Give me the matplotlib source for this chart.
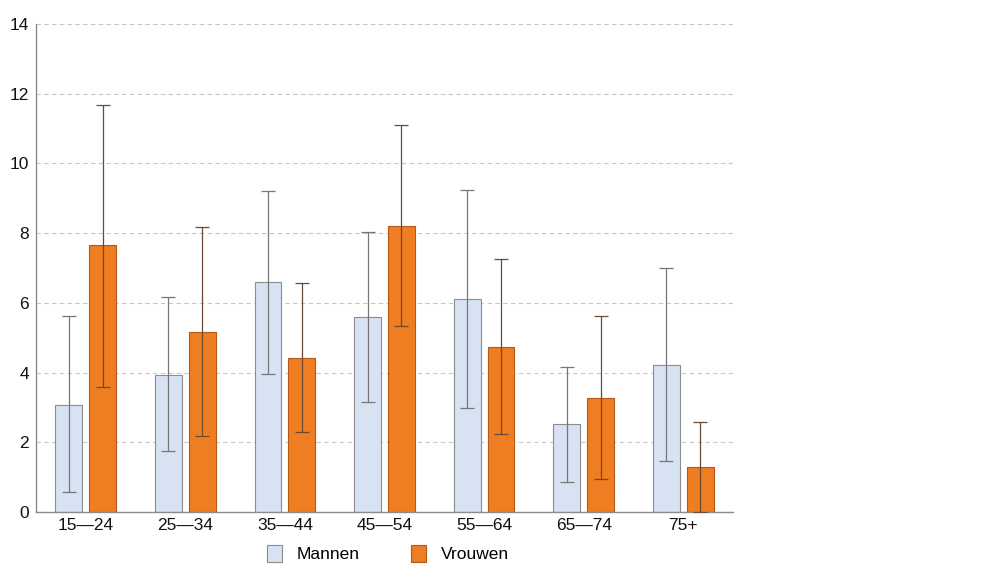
import numpy as np
import matplotlib
matplotlib.use('Agg')
import matplotlib.pyplot as plt

# age groups
groups = ['15\u201424', '25\u201434', '35\u201444', '45\u201454', '55\u201464', '65\u201474', '75+']

# values
mannen = [3.07, 3.93, 6.60, 5.59, 6.11, 2.52, 4.22]
mannen_lo = [0.57, 1.75, 3.96, 3.16, 2.98, 0.86, 1.46]
mannen_hi = [5.62, 6.17, 9.21, 8.03, 9.24, 4.16, 7.00]

vrouwen = [7.66, 5.16, 4.42, 8.20, 4.73, 3.27, 1.29]
vrouwen_lo = [3.59, 2.18, 2.29, 5.34, 2.24, 0.95, 0.0]
vrouwen_hi = [11.68, 8.18, 6.57, 11.10, 7.26, 5.62, 2.58]

plt.rcParams['font.family'] = ['Liberation Sans', 'DejaVu Sans']

fig = plt.figure(figsize=(9.94, 5.75), dpi=100)
ax = fig.add_axes([36 / 994, 63 / 575, 697 / 994, 488 / 575])

x = np.arange(len(groups))
w = 0.27
off = 0.17

m = np.array(mannen)
v = np.array(vrouwen)
m_err = [m - np.array(mannen_lo), np.array(mannen_hi) - m]
v_err = [v - np.array(vrouwen_lo), np.array(vrouwen_hi) - v]

ax.bar(x - off, m, w, color='#d7e3f3', edgecolor='#8c8c8c', linewidth=0.8,
       label='Mannen', zorder=2)
ax.bar(x + off, v, w, color='#ef7d22', edgecolor='#b5581a', linewidth=0.8,
       label='Vrouwen', zorder=2)

ax.errorbar(x - off, m, yerr=m_err, fmt='none', ecolor='#777777',
            elinewidth=0.9, capsize=5, capthick=0.9, zorder=3)
ax.errorbar(x + off, v, yerr=v_err, fmt='none', ecolor='#6a4a35',
            elinewidth=0.9, capsize=5, capthick=0.9, zorder=3)

ax.set_xlim(-0.5, len(groups) - 0.5)
ax.set_ylim(0, 14)
ax.set_yticks(np.arange(0, 15, 2))
ax.set_xticks(x)
ax.set_xticklabels(groups)
ax.tick_params(axis='both', length=0, labelsize=12.5, colors='#111111')
ax.tick_params(axis='y', pad=5)
ax.tick_params(axis='x', pad=4)

ax.yaxis.grid(True, linestyle=(0, (4, 3)), color='#c8c8c8', linewidth=0.8)
ax.set_axisbelow(True)
for s in ['top', 'right']:
    ax.spines[s].set_visible(False)
for s in ['left', 'bottom']:
    ax.spines[s].set_color('#8c8c8c')
    ax.spines[s].set_linewidth(1)

ax.legend(loc='upper center', bbox_to_anchor=(0.505, -0.035), ncol=2,
          frameon=False, fontsize=12.5, handlelength=0.85, handleheight=1.15,
          columnspacing=3.0, handletextpad=0.85)

fig.savefig('out.png', dpi=100)
